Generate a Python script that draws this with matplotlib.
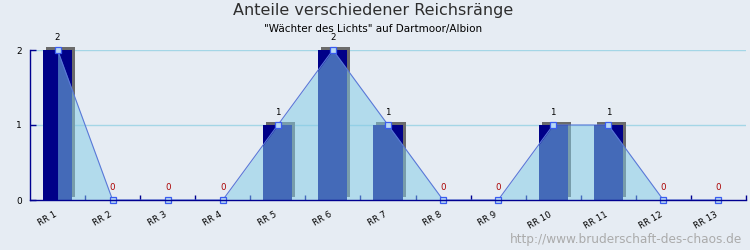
import matplotlib
matplotlib.use("Agg")
import matplotlib.pyplot as plt
from matplotlib.transforms import ScaledTranslation

categories = ["RR 1", "RR 2", "RR 3", "RR 4", "RR 5", "RR 6", "RR 7",
              "RR 8", "RR 9", "RR 10", "RR 11", "RR 12", "RR 13"]
values = [2, 0, 0, 0, 1, 2, 1, 0, 0, 1, 1, 0, 0]
y_ticks = [0, 1, 2]

BG = "#e6ecf3"
NAVY = "#000088"
AXIS = "#000090"
SHADOW = "#6b6b6b"
AREA = "#84cce6"
LINE = "#5a78d8"
GRID = "#a4d6e6"

fig = plt.figure(figsize=(7.5, 2.5), dpi=100, facecolor=BG)
ax = fig.add_axes([30 / 750, 50 / 250, 716 / 750, 150 / 250])
ax.set_facecolor(BG)

x = list(range(len(categories)))
ax.set_xlim(-0.5, len(categories) - 0.5)
ax.set_ylim(0, 2)

# horizontal grid
for yv in y_ticks[1:]:
    ax.axhline(yv, color=GRID, lw=1.0, zorder=0.5)

bar_w = 29 / 55
shadow_tr = ax.transData + ScaledTranslation(3 / 100, 3 / 100, fig.dpi_scale_trans)
ax.bar(x, values, width=bar_w, color=SHADOW, transform=shadow_tr,
       zorder=1, clip_on=False, linewidth=0)
ax.bar(x, values, width=bar_w, color=NAVY, zorder=2, linewidth=0)

# area with line and square markers
ax.fill_between(x, values, 0, color=AREA, alpha=0.52, zorder=3, linewidth=0)
ax.plot(x, values, color=LINE, lw=0.8, zorder=4)
ax.plot(x, values, ls="none", marker="s", markersize=5,
        markerfacecolor="#b8d8f4", markeredgecolor="#3a5cf0",
        markeredgewidth=0.9, zorder=5, clip_on=False)

# value labels
for xi, v in zip(x, values):
    ax.annotate(str(v), (xi, v), xytext=(0, 9), textcoords="offset points",
                ha="center", va="center", fontsize=6.2,
                color="#aa0000" if v == 0 else "black", zorder=6,
                annotation_clip=False)

# axes styling
for s in ("top", "right"):
    ax.spines[s].set_visible(False)
for s in ("left", "bottom"):
    ax.spines[s].set_color(AXIS)
    ax.spines[s].set_linewidth(1.0)
    ax.spines[s].set_zorder(7)

ax.set_yticks(y_ticks)
ax.set_yticklabels([str(t) for t in y_ticks], fontsize=6.5)
ax.tick_params(axis="y", direction="in", length=4.5, width=1, color=AXIS,
               pad=6)

ax.set_xticks(x)
ax.set_xticklabels(categories, fontsize=6.2, rotation=30, ha="right",
                   rotation_mode="anchor")
ax.tick_params(axis="x", which="major", length=0, pad=7)
shift = ScaledTranslation(-4 / 100, 0, fig.dpi_scale_trans)
for lbl in ax.get_xticklabels():
    lbl.set_transform(lbl.get_transform() + shift)
ax.set_xticks([i + 0.5 for i in x], minor=True)
ax.tick_params(axis="x", which="minor", direction="in", length=3.6,
               width=1, color=AXIS)

fig.text(373 / 750, 1 - 11 / 250, "Anteile verschiedener Reichsränge",
         ha="center", va="center", fontsize=11.5, color="#2e2e2e")
fig.text(373 / 750, 1 - 29 / 250, '"Wächter des Lichts" auf Dartmoor/Albion',
         ha="center", va="center", fontsize=7.5, color="black")
fig.text(742 / 750, 1 - 239 / 250, "http://www.bruderschaft-des-chaos.de",
         ha="right", va="center", fontsize=8.7, color="#ababab")

fig.savefig("out.png", dpi=100, facecolor=BG)
